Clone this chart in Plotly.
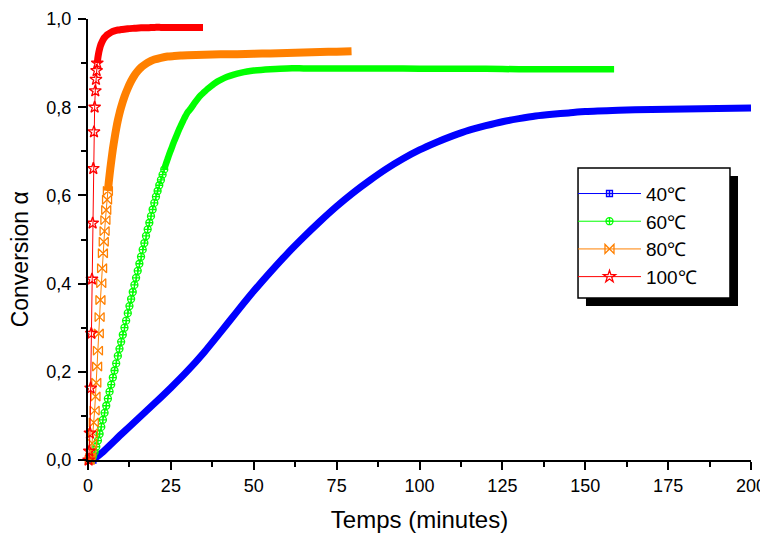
import plotly.graph_objects as go

# ---------------- data ----------------
blue_t = [1.5, 5, 10, 15, 20, 25, 30, 35, 40, 45, 50, 55, 60, 65, 70, 75, 80, 85, 90, 95,
          100, 105, 110, 115, 120, 125, 130, 135, 140, 145, 150, 160, 170, 180, 190, 200]
blue_a = [0.0, 0.022, 0.058, 0.093, 0.128, 0.164, 0.202, 0.244, 0.290, 0.337, 0.383, 0.426,
          0.467, 0.505, 0.541, 0.575, 0.606, 0.634, 0.660, 0.683, 0.703, 0.720, 0.735, 0.748,
          0.758, 0.767, 0.774, 0.780, 0.784, 0.787, 0.790, 0.793, 0.795, 0.796, 0.797, 0.798]

green_t = [1.0, 1.5, 2.0, 2.5, 3.0, 3.5, 4.0, 4.5, 5.0, 5.5, 6.0, 6.5, 7.0, 7.5, 8.0, 8.5,
           9.0, 9.5, 10.0, 10.5, 11.0, 11.5, 12.0, 12.5, 13.0, 13.5, 14.0, 14.5, 15.0, 15.5,
           16.0, 16.5, 17.0, 17.5, 18.0, 18.5, 19.0, 19.5, 20.0, 20.5, 21.0, 21.5, 22.0, 22.5,
           23.0, 23.5, 24.0, 24.5, 25.0, 25.5, 26.0, 26.5, 27.0, 27.5, 28.0, 28.5, 29.0, 29.5,
           30.0, 31, 32, 33, 34, 35, 36, 37, 38, 39, 40, 42, 44, 46, 48, 50, 55, 60, 65, 70,
           80, 90, 100, 110, 120, 130, 140, 150, 158.7]
green_a = [0.000, 0.008, 0.018, 0.030, 0.044, 0.059, 0.075, 0.091, 0.107, 0.123, 0.139, 0.155,
           0.171, 0.187, 0.203, 0.219, 0.236, 0.252, 0.268, 0.284, 0.300, 0.316, 0.333, 0.349,
           0.365, 0.381, 0.397, 0.413, 0.429, 0.445, 0.461, 0.477, 0.492, 0.508, 0.523, 0.538,
           0.553, 0.568, 0.583, 0.597, 0.610, 0.623, 0.635, 0.647, 0.659, 0.671, 0.682, 0.693,
           0.703, 0.713, 0.723, 0.732, 0.741, 0.750, 0.758, 0.766, 0.774, 0.781, 0.788, 0.797,
           0.808, 0.818, 0.827, 0.834, 0.841, 0.847, 0.853, 0.858, 0.862, 0.869, 0.874, 0.878,
           0.881, 0.883, 0.886, 0.888, 0.888, 0.888, 0.888, 0.888, 0.887, 0.887, 0.887, 0.886,
           0.886, 0.886, 0.886]

orange_t = [0.5, 0.75, 1.0, 1.25, 1.5, 1.75, 2.0, 2.25, 2.5, 2.75, 3.0, 3.25, 3.5, 3.75, 4.0,
            4.25, 4.5, 4.75, 5.0, 5.25, 5.5, 5.75, 6.0, 6.25, 6.5, 6.75, 7.0, 7.5, 8.0, 8.5,
            9.0, 9.5, 10, 11, 12, 13, 14, 15, 16, 17, 18, 19, 20, 22, 24, 26, 28, 30, 35, 40,
            45, 50, 55, 60, 65, 70, 75, 79.5]
orange_a = [0.000, 0.006, 0.019, 0.038, 0.061, 0.085, 0.112, 0.144, 0.175, 0.212, 0.248, 0.287,
            0.324, 0.363, 0.401, 0.435, 0.469, 0.495, 0.519, 0.544, 0.567, 0.590, 0.610, 0.629,
            0.646, 0.662, 0.677, 0.705, 0.729, 0.751, 0.770, 0.786, 0.800, 0.824, 0.843, 0.859,
            0.872, 0.882, 0.890, 0.896, 0.901, 0.905, 0.908, 0.912, 0.915, 0.916, 0.917, 0.918,
            0.919, 0.920, 0.920, 0.921, 0.922, 0.923, 0.924, 0.925, 0.926, 0.927]

red_t = [0.2, 0.4, 0.6, 0.8, 1.0, 1.2, 1.4, 1.6, 1.8, 2.0, 2.2, 2.4, 2.6, 2.8, 3.0, 3.2, 3.4,
         3.6, 3.8, 4.0, 4.5, 5.0, 5.5, 6.0, 7.0, 8.0, 9.0, 10, 12, 14, 16, 18, 20, 22, 24, 26,
         28, 30, 32, 34.7]
red_a = [0.000, 0.020, 0.061, 0.163, 0.287, 0.410, 0.537, 0.661, 0.744, 0.800, 0.837, 0.863,
         0.883, 0.900, 0.913, 0.922, 0.929, 0.935, 0.940, 0.944, 0.952, 0.958, 0.962, 0.965,
         0.970, 0.973, 0.975, 0.976, 0.978, 0.979, 0.980, 0.980, 0.981, 0.981, 0.981, 0.981,
         0.981, 0.981, 0.981, 0.981]

series_names = ["40℃", "60℃", "80℃", "100℃"]
x_ticks = [0, 25, 50, 75, 100, 125, 150, 175, 200]
y_ticks = [0.0, 0.2, 0.4, 0.6, 0.8, 1.0]
x_title = "Temps (minutes)"
y_title = "Conversion α"

# ---------------- styling ----------------
# (t, a, colour, symbol, marker size, index where markers merge into a band, band width)
styles = [
    (blue_t, blue_a, "#0000ff", "square-cross-open", 6, 0, 7),
    (green_t, green_a, "#00ff00", "circle-cross-open", 7, 44, 6.5),
    (orange_t, orange_a, "#ff8000", "bowtie-open", 9, 22, 8),
    (red_t, red_a, "#ff0000", "star-open", 9, 13, 7),
]

FONT = "Arial, 'Liberation Sans', sans-serif"
fig = go.Figure()

for name, (t, a, col, sym, msz, k, bw) in zip(series_names, styles):
    # dense, overlapping part of the curve: markers merge into a thick band
    fig.add_trace(go.Scatter(
        x=t[k:], y=a[k:], mode="lines", showlegend=False, hoverinfo="skip",
        line=dict(color=col, width=bw, shape="spline", smoothing=0.6),
        cliponaxis=False,
    ))
    # sparse part: individual markers joined by a thin line
    fig.add_trace(go.Scatter(
        x=t[:k + 1], y=a[:k + 1], mode="lines+markers", name=name,
        line=dict(color=col, width=1),
        marker=dict(symbol=sym, size=msz, color=col, line=dict(color=col, width=1.3)),
        cliponaxis=False,
    ))

# legend frame + drop shadow (paper coordinates)
fig.add_shape(type="rect", xref="paper", yref="paper",
              x0=0.7511, x1=0.9804, y0=0.3492, y1=0.644,
              fillcolor="black", line=dict(width=0), layer="above")
fig.add_shape(type="rect", xref="paper", yref="paper",
              x0=0.7391, x1=0.9683, y0=0.3673, y1=0.6621,
              fillcolor="white", line=dict(color="black", width=1.5), layer="above")

# y-axis title (placed as in the reference)
fig.add_annotation(text=y_title, xref="paper", yref="paper", x=-0.1026, y=0.455,
                   xanchor="center", yanchor="middle", textangle=-90, showarrow=False,
                   font=dict(family=FONT, size=23, color="black"))

axis_common = dict(
    showline=True, linecolor="black", linewidth=2, mirror=False,
    ticks="outside", ticklen=8, tickwidth=1.5, tickcolor="black",
    showgrid=False, zeroline=False, automargin=False,
    tickfont=dict(family=FONT, size=18, color="black"),
)

fig.update_layout(
    width=760, height=525,
    margin=dict(l=80, r=17, t=11, b=73),
    paper_bgcolor="white", plot_bgcolor="white",
    separators=", ",
    font=dict(family=FONT, color="black"),
    xaxis=dict(
        range=[0, 200], tickvals=x_ticks,
        minor=dict(dtick=12.5, tick0=0, ticks="outside", ticklen=5, tickwidth=1.5, tickcolor="black"),
        title=dict(text=x_title, font=dict(family=FONT, size=24, color="black"), standoff=18),
        **axis_common,
    ),
    yaxis=dict(
        range=[0, 1.0], tickvals=y_ticks, tickformat=".1f", ticklabelstandoff=3,
        minor=dict(dtick=0.1, tick0=0, ticks="outside", ticklen=5, tickwidth=1.5, tickcolor="black"),
        **axis_common,
    ),
    legend=dict(
        x=0.7315, y=0.647, xanchor="left", yanchor="top",
        bgcolor="rgba(0,0,0,0)", borderwidth=0,
        font=dict(family=FONT, size=19, color="black"),
        itemwidth=63, traceorder="normal",
    ),
)

fig.write_html("out.html")
